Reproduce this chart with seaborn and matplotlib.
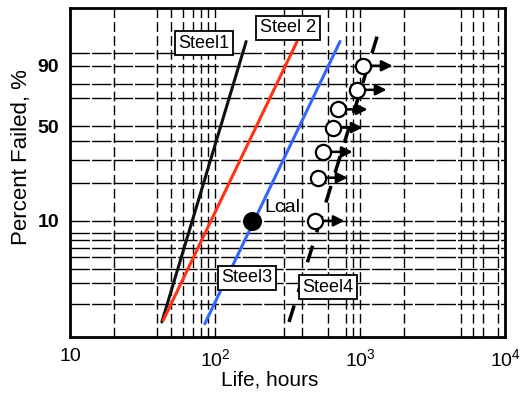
import numpy as np
import pandas as pd
import matplotlib
matplotlib.use("Agg")
import matplotlib.pyplot as plt
import seaborn as sns

# ---------------- data ----------------
steel_names = ["Steel1", "Steel 2", "Steel3", "Steel4"]
steel1_life = [43, 164]
steel1_pct = [1.4, 97.6]
steel2_life = [44, 368]
steel2_pct = [1.45, 97.6]
steel3_life = [85, 728]
steel3_pct = [1.35, 97.6]
steel4_life = [324, 1374]
steel4_pct = [1.4, 99.3]

lcal_life = [180]
lcal_pct = [10]

susp_life = [1049, 953, 705, 651, 556, 513, 489]
susp_pct = [90, 76, 62, 49, 34, 22, 10]

x_ticks = [10, 100, 1000, 10000]
x_ticklabels = ["10", "10$^2$", "10$^3$", "10$^4$"]
y_ticks = [10, 50, 90]
y_ticklabels = ["10", "50", "90"]
h_grid = [2, 3, 4, 5, 6, 7, 8, 10, 20, 30, 40, 50, 70, 80, 90, 95]
v_grid = [20, 40, 50, 60, 70, 80, 90, 100, 300, 400, 600, 800, 900, 1000,
          2000, 5000, 6000, 7000, 9000]

# ---------------- style ----------------
sns.set_theme(style="white")
plt.rcParams["font.family"] = ["Liberation Sans", "DejaVu Sans"]
plt.rcParams["mathtext.fontset"] = "custom"
plt.rcParams["mathtext.rm"] = "Liberation Sans"
plt.rcParams["mathtext.it"] = "Liberation Sans"
for k in ["text.color", "axes.labelcolor", "xtick.color", "ytick.color"]:
    plt.rcParams[k] = "black"

W, H = 520, 397
fig = plt.figure(figsize=(W / 100, H / 100), dpi=100)
ax = fig.add_axes([70 / W, 1 - 337 / H, (505 - 70) / W, (337 - 8) / H])


def fwd(p):
    p = np.clip(np.asarray(p, dtype=float), 1e-9, 100 - 1e-9)
    return np.log(-np.log(1 - p / 100.0))


def inv(y):
    return 100.0 * (1 - np.exp(-np.exp(np.asarray(y, dtype=float))))


ax.set_xscale("log")
ax.set_yscale("function", functions=(fwd, inv))
ax.set_xlim(10, 10000)
ax.set_ylim(1.04, 99.93)

# grid
for p in h_grid:
    ax.axhline(p, color="black", lw=1.0, dashes=(14, 1.5), zorder=1)
for v in v_grid:
    ax.axvline(v, color="black", lw=1.0, dashes=(7, 3), zorder=1)

# lines
lines_df = pd.concat([
    pd.DataFrame({"life": steel1_life, "pct": steel1_pct, "steel": steel_names[0]}),
    pd.DataFrame({"life": steel2_life, "pct": steel2_pct, "steel": steel_names[1]}),
    pd.DataFrame({"life": steel3_life, "pct": steel3_pct, "steel": steel_names[2]}),
])
palette = {steel_names[0]: "#111111", steel_names[1]: "#ff3311", steel_names[2]: "#3366ff"}
sns.lineplot(data=lines_df, x="life", y="pct", hue="steel", palette=palette,
             lw=2.2, legend=False, ax=ax, zorder=3, estimator=None, sort=False)

s4 = pd.DataFrame({"life": steel4_life, "pct": steel4_pct})
sns.lineplot(data=s4, x="life", y="pct", color="black", lw=2.5,
             dashes=False, ax=ax, zorder=3, estimator=None, sort=False)
ax.lines[-1].set_dashes((5, 4))

# suspended tests with arrows
for xv, pv in zip(susp_life, susp_pct):
    ax.annotate("", xy=(xv * 1.6, pv), xytext=(xv, pv),
                arrowprops=dict(arrowstyle="-|>", lw=1.8, color="black",
                                mutation_scale=16, shrinkA=0, shrinkB=0),
                zorder=4)
sns.scatterplot(x=susp_life, y=susp_pct, ax=ax, s=120, facecolor="white",
                edgecolor="black", linewidth=1.6, zorder=5)

# Lcal point
sns.scatterplot(x=lcal_life, y=lcal_pct, ax=ax, s=160, color="black",
                edgecolor="black", zorder=6)
fig.text(264 / W, 1 - 208 / H, "Lcal", fontsize=14, ha="left", va="center")

# labels in boxes
box = dict(boxstyle="square,pad=0.2", fc="white", ec="black", lw=1.3)
label_pos = [(204, 43), (288, 28), (247, 278), (328, 287)]
for name, (px, py) in zip(steel_names, label_pos):
    fig.text(px / W, 1 - py / H, name, fontsize=13, ha="center", va="center",
             bbox=box, zorder=10)

# axes
ax.set_xticks(x_ticks)
ax.set_xticklabels(x_ticklabels, fontsize=14)
ax.xaxis.set_minor_locator(matplotlib.ticker.NullLocator())
ax.set_yticks(y_ticks)
ax.set_yticklabels(y_ticklabels, fontsize=14, fontweight="bold")
ax.yaxis.set_minor_locator(matplotlib.ticker.NullLocator())
ax.tick_params(length=0, pad=8)
ax.set_xlabel("Life, hours", fontsize=15)
ax.set_ylabel("Percent Failed, %", fontsize=16)
ax.xaxis.set_label_coords((270 - 70) / 435, (337 - 380) / 329)
ax.yaxis.set_label_coords((22 - 70) / 435, (337 - 157) / 329)
ax.xaxis.label.set_va("center")
ax.yaxis.label.set_va("center")
for sp in ax.spines.values():
    sp.set_color("black")
    sp.set_linewidth(2)
ax.grid(False)

fig.savefig("out.png", dpi=100)
